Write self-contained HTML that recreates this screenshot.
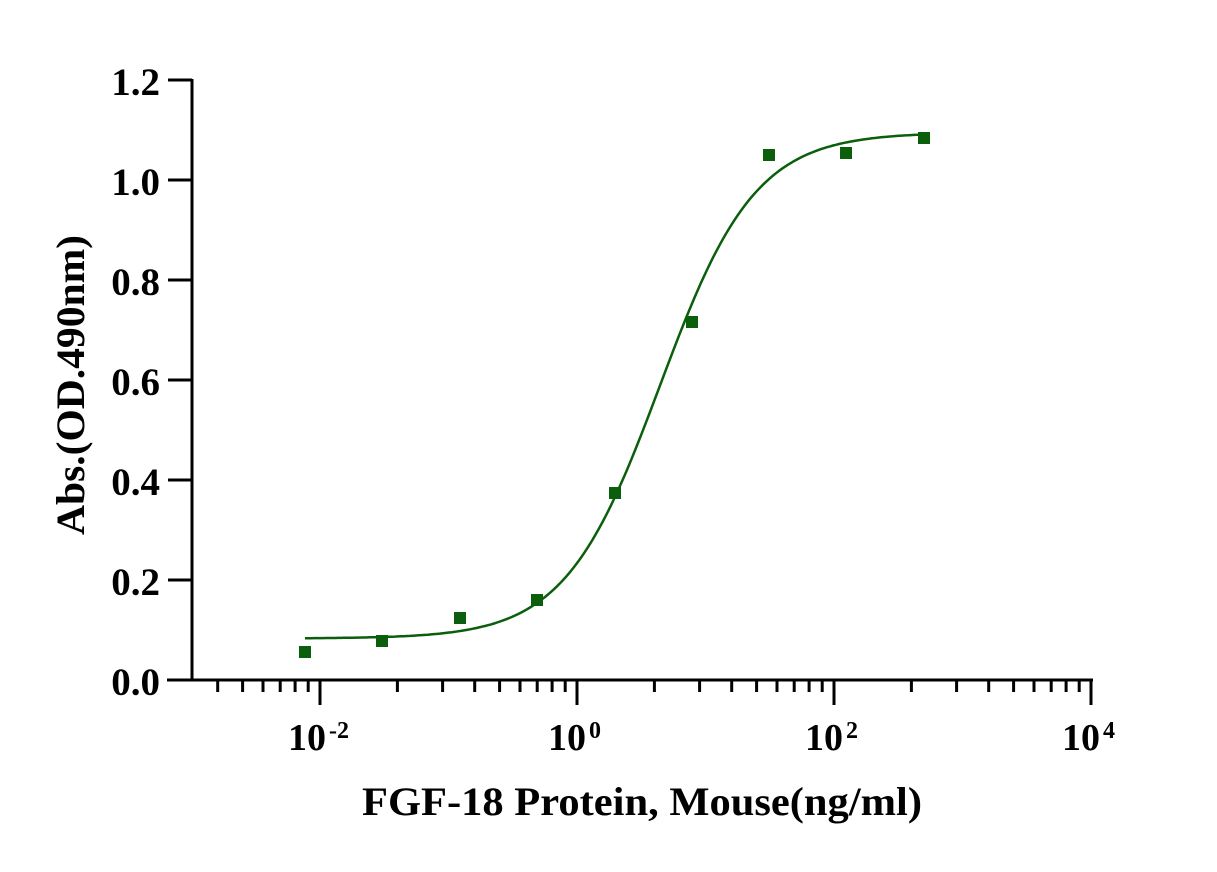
<!DOCTYPE html>
<html><head><style>
html,body{margin:0;padding:0;background:#fff}
text{font-family:"Liberation Serif",serif;font-weight:bold;fill:#000}
</style></head><body>
<svg id="s" width="1217" height="867" xmlns="http://www.w3.org/2000/svg">
<g id="ticks" stroke="#000" stroke-width="3"></g>
<line x1="192" y1="79" x2="192" y2="681.5" stroke="#000" stroke-width="3"/>
<line x1="167" y1="680" x2="1093" y2="680" stroke="#000" stroke-width="3"/>
<g font-size="39" text-anchor="end">
<text x="160" y="95">1.2</text>
<text x="160" y="195">1.0</text>
<text x="160" y="295">0.8</text>
<text x="160" y="395">0.6</text>
<text x="160" y="495">0.4</text>
<text x="160" y="595">0.2</text>
<text x="160" y="695">0.0</text>
</g>
<g font-size="38">
<text x="288" y="750">10<tspan font-size="24" dx="3" dy="-12">-2</tspan></text>
<text x="548" y="750">10<tspan font-size="24" dx="3" dy="-12">0</tspan></text>
<text x="805" y="750">10<tspan font-size="24" dx="3" dy="-12">2</tspan></text>
<text x="1062" y="750">10<tspan font-size="24" dx="3" dy="-12">4</tspan></text>
</g>
<text x="362" y="815" font-size="40" textLength="560" lengthAdjust="spacingAndGlyphs">FGF-18 Protein, Mouse(ng/ml)</text>
<text transform="translate(84,385) rotate(-90)" font-size="40" text-anchor="middle" textLength="300" lengthAdjust="spacingAndGlyphs">Abs.(OD.490nm)</text>
<path id="curve" fill="none" stroke="#0b5e0b" stroke-width="2.5"/>
<g id="pts" fill="#0b5e0b"></g>
</svg>
<script>
var t=document.getElementById('ticks'),h='';
function L(x,y2){h+='<line x1="'+x+'" y1="680" x2="'+x+'" y2="'+y2+'"/>';}
[320,577,834,1091].forEach(function(m){L(m,705);});
[63,320,577,834].forEach(function(b){for(var k=2;k<=9;k++){var x=b+Math.log10(k)*257;if(x>195&&x<1092)L(x.toFixed(1),692);}});
for(var i=0;i<6;i++){var y=80+i*100;h+='<line x1="168" y1="'+y+'" x2="192" y2="'+y+'"/>';}
t.innerHTML=h;
var d='';
for(var x=305;x<=924;x+=3){var y=0.083+1.012/(1+Math.exp(-0.021*(x-660)));var py=680-y*500;d+=(d?'L':'M')+x+','+py.toFixed(1);}
document.getElementById('curve').setAttribute('d',d);
var P=[[305,652],[382,641],[460,618],[537,600],[615,493],[692,322],[769,155],[846,153],[924,138]],g='';
P.forEach(function(p){g+='<rect x="'+(p[0]-6)+'" y="'+(p[1]-6)+'" width="12" height="12"/>';});
document.getElementById('pts').innerHTML=g;
</script>
</body></html>
